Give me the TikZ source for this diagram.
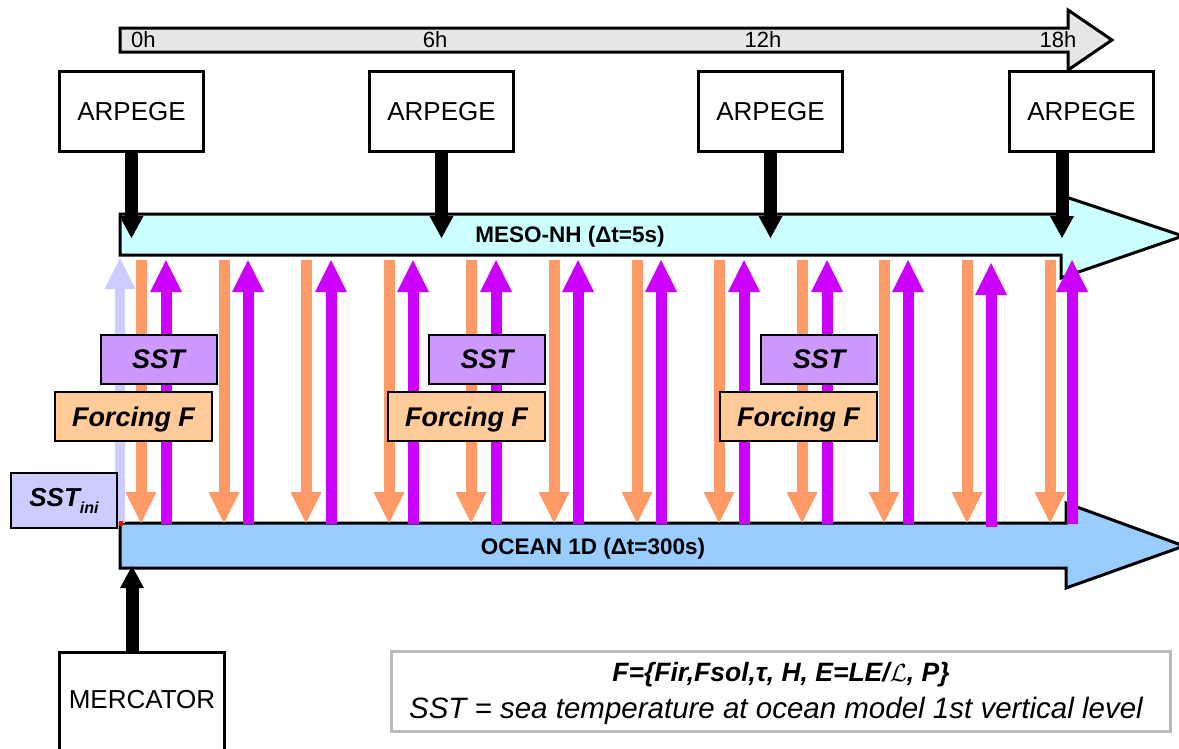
\documentclass[tikz,border=0pt]{standalone}
\usepackage{fontspec}
\setmainfont{Liberation Sans}
\usetikzlibrary{arrows.meta}
\definecolor{mesoc}{HTML}{CCFFFF}
\definecolor{oceanc}{HTML}{99CCFF}
\definecolor{sstc}{HTML}{CC99FF}
\definecolor{forcc}{HTML}{FFCC99}
\definecolor{inic}{HTML}{CCCCFF}
\definecolor{orngc}{HTML}{FF9966}
\definecolor{purpc}{HTML}{CC00FF}
\definecolor{tlc}{HTML}{E6E6E6}
\definecolor{lgdc}{HTML}{BBBBBB}
\begin{document}
\begin{tikzpicture}[x=1pt,y=-1pt,
  modelbox/.style={draw=black,line width=3pt,fill=white,minimum width=144pt,minimum height=80pt,inner sep=0pt,font=\fontsize{26}{30}\selectfont},
  band/.style={draw=black,line width=3pt},
  bandlabel/.style={font=\fontsize{22.5}{26}\selectfont\bfseries},
  timelabel/.style={font=\fontsize{22}{26}\selectfont,inner sep=0pt},
  blkarrow/.style={line width=13pt,black,-{Triangle[width=24pt,length=22pt,line width=0pt]}},
  orarrow/.style={line width=11pt,orngc,-{Triangle[width=31pt,length=31pt,line width=0pt]}},
  puarrow/.style={line width=11pt,purpc,-{Triangle[width=32pt,length=32pt,line width=0pt]}},
  iniarrow/.style={line width=10pt,inic,-{Triangle[width=31pt,length=31pt,line width=0pt]}},
  sstbox/.style={draw=black,line width=2pt,fill=sstc,minimum width=116pt,minimum height=49pt,inner sep=0pt,text depth=0pt,font=\fontsize{27}{30}\selectfont\bfseries\itshape},
  forcbox/.style={draw=black,line width=2pt,fill=forcc,minimum width=157pt,minimum height=49pt,inner sep=0pt,text depth=0pt,font=\fontsize{27}{30}\selectfont\bfseries\itshape},
]
\useasboundingbox (0,0) rectangle (1179,748);
\fill[white] (0,0) rectangle (1179,748);

% timeline
\draw[band,fill=tlc] (120,28) -- (1068,28) -- (1068,10) -- (1112,40) -- (1068,70) -- (1068,52) -- (120,52) -- cycle;
\node[timelabel,anchor=west] (t0) at (131,40) {0h};
\node[timelabel] (t6) at (435,40) {6h};
\node[timelabel] (t12) at (763,40) {12h};
\node[timelabel] (t18) at (1058,40) {18h};

% ARPEGE boxes
\node[modelbox] (a1) at (131.5,111.5) {ARPEGE};
\node[modelbox] (a2) at (441.5,111.5) {ARPEGE};
\node[modelbox] (a3) at (770.5,111.5) {ARPEGE};
\node[modelbox] (a4) at (1081.5,111.5) {ARPEGE};

% MESO-NH band
\draw[band,fill=mesoc] (120,214) -- (1066,214) -- (1066,197) -- (1183,236) -- (1061,278) -- (1061,255) -- (120,255) -- cycle;
\node[bandlabel] (meso) at (570,237) {MESO-NH (Δt=5s)};

% ARPEGE -> MESO-NH
\coordinate (m1) at (131.5,238);
\coordinate (m2) at (441.5,238);
\coordinate (m3) at (770.5,238);
\coordinate (m4) at (1062,238);
\draw[blkarrow] (a1.south) -- (m1);
\draw[blkarrow] (a2.south) -- (m2);
\draw[blkarrow] (a3.south) -- (m3);
\draw[blkarrow] (a4.south -| m4) -- (m4);

% OCEAN band
\draw[band,fill=oceanc] (120,523) -- (1066,523) -- (1066,503) -- (1184,546) -- (1066,588) -- (1066,568) -- (120,568) -- cycle;
\node[bandlabel] (ocean) at (593,549) {OCEAN 1D (Δt=300s)};

% SST_ini upward arrow
\coordinate (ib) at (120,523);
\coordinate (it) at (120,258);
\draw[iniarrow] (ib) -- (it);

% exchange arrows
\foreach \x [count=\i] in {141,224,306,389,471,554,637,719,802,884,967,1050}{
  \coordinate (ot\i) at (\x,260);
  \coordinate (ob\i) at (\x,523);
  \draw[orarrow] (ot\i) -- (ob\i);
}
\foreach \x/\yt/\yb [count=\i] in {166/260/524,248/260/524,331/260/524,413/260/524,496/260/524,578/260/524,661/260/524,744/260/524,827/260/524,908/260/524,991/263/527,1072/260/524}{
  \coordinate (pb\i) at (\x,\yb);
  \coordinate (pt\i) at (\x,\yt);
  \draw[puarrow] (pb\i) -- (pt\i);
}

% SST and Forcing boxes
\node[sstbox] (s1) at (158.5,359.5) {SST};
\node[sstbox] (s2) at (487,359.5) {SST};
\node[sstbox] (s3) at (819,359.5) {SST};
\node[forcbox] (f1) at (133.5,416.5) {Forcing F};
\node[forcbox] (f2) at (466.5,416.5) {Forcing F};
\node[forcbox] (f3) at (798.5,416.5) {Forcing F};

% SST_ini box
\node[draw=black,line width=2pt,fill=inic,minimum width=106pt,minimum height=55pt,inner sep=0pt,font=\fontsize{26}{30}\selectfont\bfseries\itshape] (sini) at (64,500.5) {SST\raisebox{-7pt}{\fontsize{16}{18}\selectfont ini}};
\fill[red] (118.5,521) rectangle (122.5,526);

% MERCATOR
\node[draw=black,line width=3pt,fill=white,minimum width=165pt,minimum height=110pt,inner sep=0pt,anchor=north] (merc) at (142,650.5) {};
\node[font=\fontsize{26}{30}\selectfont] (merct) at (142,700) {MERCATOR};
\coordinate (oc) at (132,566);
\draw[blkarrow] (merc.north -| oc) -- (oc);

% legend
\node[draw=lgdc,line width=3pt,fill=white,minimum width=779pt,minimum height=80pt,inner sep=0pt] (leg) at (781,691.5) {};
\node[font=\fontsize{26.5}{30}\selectfont\bfseries\itshape] (l1) at (781,675) {F=\{Fir,Fsol,τ, H, E=LE/$\mathcal{L}$, P\}};
\node[font=\fontsize{29.5}{33}\selectfont\itshape] (l2) at (776,711) {SST = sea temperature at ocean model 1st vertical level};
\end{tikzpicture}
\end{document}
